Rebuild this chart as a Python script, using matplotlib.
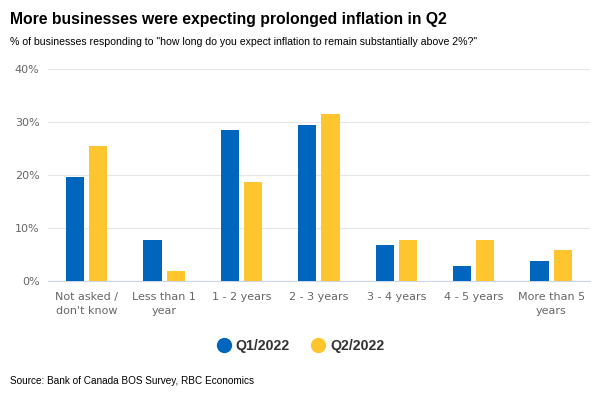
import numpy as np
import matplotlib.pyplot as plt
from matplotlib.lines import Line2D

categories = ['Not asked /\ndon\'t know', 'Less than 1\nyear', '1 - 2 years', '2 - 3 years',
              '3 - 4 years', '4 - 5 years', 'More than 5\nyears']
q1_2022 = [19.6, 7.7, 28.5, 29.4, 6.8, 2.8, 3.8]
q2_2022 = [25.5, 1.9, 18.7, 31.5, 7.7, 7.7, 5.8]
series_names = ['Q1/2022', 'Q2/2022']
yticks = [0, 10, 20, 30, 40]

blue = '#0065bd'
yellow = '#fec52e'

fig = plt.figure(figsize=(6, 4), dpi=100)
ax = fig.add_axes([0.08, 0.2975, 0.903, 0.53])

x = np.arange(len(categories))
w = 0.235
ax.bar(x - 0.15, q1_2022, width=w, color=blue, zorder=3)
ax.bar(x + 0.15, q2_2022, width=w, color=yellow, zorder=3)

ax.set_xlim(-0.5, len(categories) - 0.5)
ax.set_ylim(0, 40)
ax.set_yticks(yticks)
ax.set_yticklabels([f'{v}%' for v in yticks])
ax.set_xticks(x)
ax.set_xticklabels(categories, linespacing=1.45)
ax.tick_params(axis='both', length=0, labelsize=8, colors='#666666', pad=6)
ax.tick_params(axis='x', pad=8)
ax.grid(axis='y', color='#e6e6e6', linewidth=0.8, zorder=0)
for s in ['top', 'right', 'left']:
    ax.spines[s].set_visible(False)
ax.spines['bottom'].set_color('#ccd6eb')
ax.spines['bottom'].set_linewidth(0.8)

fig.text(0.017, 0.952, 'More businesses were expecting prolonged inflation in Q2',
         fontsize=11.3, fontweight='bold', family='Liberation Sans', va='center')
fig.text(0.017, 0.896, '% of businesses responding to "how long do you expect inflation to remain substantially above 2%?"',
         fontsize=7.55, family='Liberation Sans', va='center')
fig.text(0.017, 0.047, 'Source: Bank of Canada BOS Survey, RBC Economics',
         fontsize=7.2, family='Liberation Sans', va='center')

handles = [Line2D([], [], marker='o', linestyle='', markersize=10, color=c) for c in (blue, yellow)]
leg = fig.legend(handles, series_names, loc='center', bbox_to_anchor=(0.5, 0.134), ncol=2,
                 frameon=False, handletextpad=0.25, columnspacing=1.4, handlelength=1.2,
                 prop={'family': 'Liberation Sans', 'weight': 'bold', 'size': 10.2})
for t in leg.get_texts():
    t.set_color('#333333')

fig.savefig('out.png', dpi=100)
